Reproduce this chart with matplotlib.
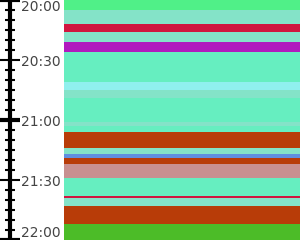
import matplotlib
matplotlib.use("Agg")
import matplotlib.pyplot as plt
from matplotlib.ticker import MultipleLocator

# schedule blocks (start time of each block, colour); each block runs until the next start
starts = ["20:00", "20:05", "20:12", "20:16", "20:21", "20:26", "20:41", "20:45",
          "20:49", "21:01", "21:03", "21:06", "21:14", "21:17", "21:19", "21:22",
          "21:29", "21:38", "21:39", "21:43", "21:52"]
end_time = "22:00"
colors = ["#50f088", "#84e3c8", "#d0163f", "#84e3c8", "#b01abe", "#66eec0", "#90f0ee",
          "#84e3c8", "#66eec0", "#84e3c8", "#66eec0", "#b83c08", "#84e3c8", "#6090e0",
          "#b83c08", "#c89090", "#66eec0", "#d0163f", "#84e3c8", "#b83c08", "#4cbc28"]
tick_labels = ["20:00", "20:30", "21:00", "21:30", "22:00"]


def to_min(s):
    h, m = s.split(":")
    return (int(h) - 20) * 60 + int(m)


t0 = [to_min(s) for s in starts]
t1 = t0[1:] + [to_min(end_time)]
dur = [b - a for a, b in zip(t0, t1)]
ticks = [to_min(s) for s in tick_labels]

fig = plt.figure(figsize=(3, 2.4), dpi=100)

# colour bands
ax = fig.add_axes([64 / 300, 0, 236 / 300, 1])
ax.barh(t0, 1, height=dur, left=0, align="edge", color=colors, linewidth=0)
ax.set_xlim(0, 1)
ax.set_ylim(ticks[-1], ticks[0])
ax.axis("off")

# time scale
tax = fig.add_axes([0, 0, 64 / 300, 1])
tax.set_ylim(ticks[-1], ticks[0])
tax.set_xticks([])
for s in ["left", "top", "bottom"]:
    tax.spines[s].set_visible(False)
tax.spines["right"].set_position(("axes", 10 / 64))
tax.spines["right"].set_linewidth(3)
tax.yaxis.tick_right()
tax.set_yticks(ticks)
tax.set_yticklabels(tick_labels)
tax.yaxis.set_minor_locator(MultipleLocator(5))
tax.tick_params(axis="y", which="major", direction="inout", length=14.4, width=1.5,
                pad=0.5, labelsize=10, labelcolor="#444444")
tax.tick_params(axis="y", which="minor", direction="inout", length=7.2, width=1.5)
for t, loc in zip(tax.yaxis.get_major_ticks(), ticks):
    if loc % 60 == 0:
        t.tick2line.set_markeredgewidth(3)
labels = tax.get_yticklabels()
labels[0].set_va("top")
labels[-1].set_va("bottom")

fig.savefig("out.png", dpi=100)
